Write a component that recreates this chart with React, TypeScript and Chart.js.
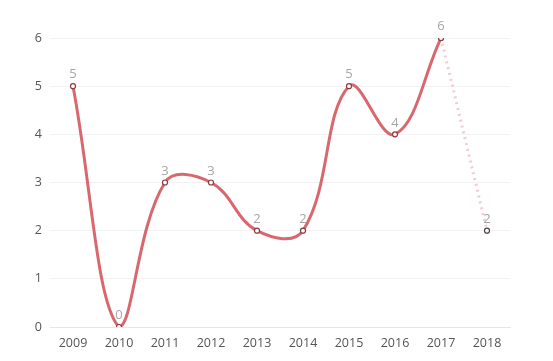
import React, { useEffect, useRef } from "react";
import { Chart, registerables } from "chart.js";

Chart.register(...registerables);

const years = ["2009", "2010", "2011", "2012", "2013", "2014", "2015", "2016", "2017", "2018"];
const solidValues = [5, 0, 3, 3, 2, 2, 5, 4, 6, null];
const forecastValues = [null, null, null, null, null, null, null, null, 6, 2];
const labelValues = [5, 0, 3, 3, 2, 2, 5, 4, 6, 2];
const yTicks = [0, 1, 2, 3, 4, 5, 6];

const valueLabels = {
  id: "valueLabels",
  afterDatasetsDraw(chart: any) {
    const ctx = chart.ctx;
    const xs = chart.scales.x;
    const ys = chart.scales.y;
    ctx.save();
    ctx.font = "13px 'Open Sans', 'Noto Sans', sans-serif";
    ctx.fillStyle = "#a6a6a6";
    ctx.textAlign = "center";
    ctx.textBaseline = "bottom";
    labelValues.forEach((v, i) => {
      const x = xs.getPixelForValue(i);
      const y = ys.getPixelForValue(v);
      ctx.fillText(String(v), x, y - 5);
    });
    ctx.restore();
  },
};

export default function App() {
  const ref = useRef<HTMLCanvasElement>(null);
  useEffect(() => {
    document.body.style.margin = "0";
    const chart = new Chart(ref.current!, {
      type: "line",
      data: {
        labels: years,
        datasets: [
          {
            data: solidValues as any,
            borderColor: "#d9686e",
            borderWidth: 3,
            tension: 0.4,
            pointRadius: 2.5,
            pointBorderWidth: 1.2,
            pointBackgroundColor: "#ffffff",
            pointBorderColor: "#8c3a3f",
            spanGaps: false,
          },
          {
            data: forecastValues as any,
            borderColor: "rgba(232,160,170,0.55)",
            borderWidth: 3,
            borderDash: [2, 4],
            tension: 0,
            pointRadius: 2.5,
            pointBorderWidth: 1.2,
            pointBackgroundColor: "#ffffff",
            pointBorderColor: "#444444",
          },
        ],
      },
      options: {
        responsive: false,
        animation: false,
        layout: { padding: { top: 38, right: 43, left: 0, bottom: 0 } },
        plugins: { legend: { display: false }, tooltip: { enabled: false } },
        scales: {
          x: {
            offset: true,
            grid: { display: false, drawTicks: false },
            border: { display: true, color: "#e6e6e6" },
            ticks: {
              color: "#555555",
              padding: 9,
              font: { size: 12.5, family: "'Open Sans', 'Noto Sans', sans-serif" },
            },
            afterFit: (s: any) => {
              s.height = 34;
            },
          },
          y: {
            min: 0,
            max: 6,
            afterBuildTicks: (s: any) => {
              s.ticks = yTicks.map((v) => ({ value: v }));
            },
            grid: { color: "#f2f2f2", drawTicks: false },
            border: { display: false },
            ticks: {
              color: "#555555",
              padding: 8,
              font: { size: 12.5, family: "'Open Sans', 'Noto Sans', sans-serif" },
            },
            afterFit: (s: any) => {
              s.width = 50;
            },
          },
        },
      },
      plugins: [valueLabels],
    });
    return () => chart.destroy();
  }, []);
  return <canvas ref={ref} width={553} height={361} style={{ display: "block" }} />;
}
